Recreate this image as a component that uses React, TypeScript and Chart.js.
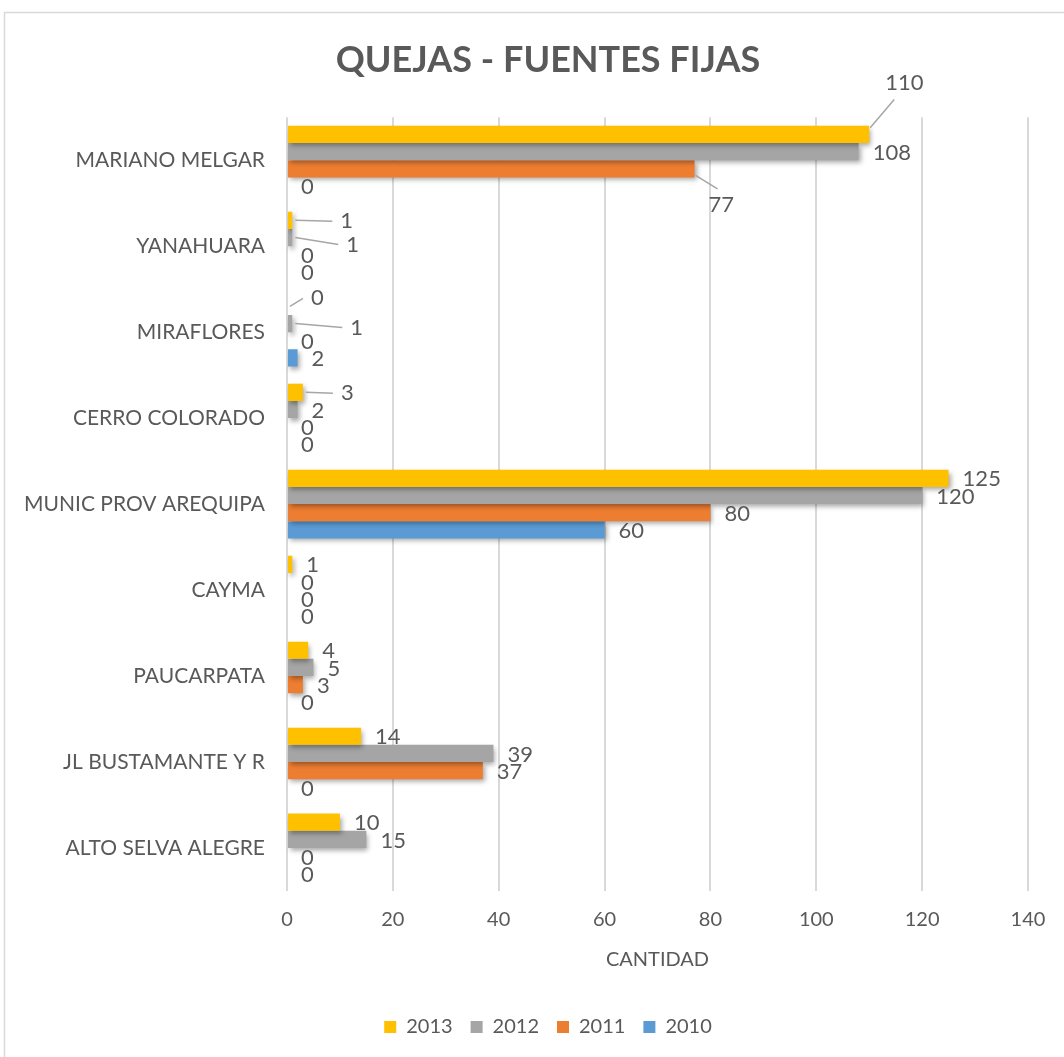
import React, { useEffect, useRef } from "react";
import { Chart, registerables } from "chart.js";

Chart.register(...registerables);

const chartTitle = "QUEJAS - FUENTES FIJAS";
const axisTitle = "CANTIDAD";
const categories = [
  "MARIANO MELGAR",
  "YANAHUARA",
  "MIRAFLORES",
  "CERRO COLORADO",
  "MUNIC PROV AREQUIPA",
  "CAYMA",
  "PAUCARPATA",
  "JL BUSTAMANTE Y R",
  "ALTO SELVA ALEGRE",
];
const years = ["2013", "2012", "2011", "2010"];
const values2013 = [110, 1, 0, 3, 125, 1, 4, 14, 10];
const values2012 = [108, 1, 1, 2, 120, 0, 5, 39, 15];
const values2011 = [77, 0, 0, 0, 80, 0, 3, 37, 0];
const values2010 = [0, 0, 2, 0, 60, 0, 0, 0, 0];
const xMin = 0;
const xMax = 140;
const xStep = 20;
const colors = ["#FFC000", "#A5A5A5", "#ED7D31", "#5B9BD5"];

// data-label displacements used with leader lines: [category, series, dx, dy]
const labelShifts: number[][] = [
  [0, 0, 2, -52],
  [0, 2, 0, 35],
  [1, 0, 34, 0],
  [1, 1, 40, 6],
  [2, 0, 10, -9],
  [2, 1, 44, 3],
  [3, 0, 24, 0],
];

const FONT = "Lato, 'Open Sans', 'DejaVu Sans', sans-serif";
const TEXT = "#595959";

const framePlugin = {
  id: "frame",
  beforeDraw(chart: any) {
    const ctx = chart.ctx;
    ctx.save();
    ctx.fillStyle = "#ffffff";
    ctx.fillRect(0, 0, chart.width, chart.height);
    ctx.strokeStyle = "#d9d9d9";
    ctx.lineWidth = 1.5;
    ctx.strokeRect(4.5, 12.5, chart.width + 20, chart.height + 20);
    ctx.restore();
  },
};

const barLabelPlugin = {
  id: "barLabels",
  beforeDatasetsDraw(chart: any) {
    const ctx = chart.ctx;
    ctx.save();
    ctx.shadowColor = "rgba(0,0,0,0.35)";
    ctx.shadowBlur = 5;
    ctx.shadowOffsetX = 2;
    ctx.shadowOffsetY = 3;
  },
  afterDatasetsDraw(chart: any) {
    const ctx = chart.ctx;
    ctx.restore();
    ctx.save();
    ctx.font = `22px ${FONT}`;
    ctx.fillStyle = TEXT;
    ctx.textAlign = "left";
    ctx.textBaseline = "middle";
    chart.data.datasets.forEach((ds: any, di: number) => {
      const meta = chart.getDatasetMeta(di);
      meta.data.forEach((bar: any, ci: number) => {
        const v = ds.data[ci];
        const endX = bar.x;
        const cy = bar.y;
        let lx = endX + 14;
        let ly = cy + 1;
        const shift = labelShifts.find((s) => s[0] === ci && s[1] === di);
        if (shift) {
          lx += shift[2];
          ly += shift[3];
          ctx.strokeStyle = "#a6a6a6";
          ctx.lineWidth = 1.5;
          ctx.beginPath();
          if (Math.abs(shift[3]) > 20) {
            const sgn = Math.sign(shift[3]);
            ctx.moveTo(endX + 1, cy + sgn * (bar.height / 2 - 2));
            ctx.lineTo(lx + 9, ly - sgn * 16);
          } else {
            ctx.moveTo(endX + 3, cy);
            ctx.lineTo(lx - 8, ly);
          }
          ctx.stroke();
        }
        ctx.fillText(String(v), lx, ly);
      });
    });
    ctx.restore();
  },
};

export default function App() {
  const ref = useRef<HTMLCanvasElement | null>(null);
  useEffect(() => {
    if (!ref.current) return;
    const seriesValues = [values2013, values2012, values2011, values2010];
    const chart = new Chart(ref.current, {
      type: "bar",
      data: {
        labels: categories,
        datasets: years.map((y, i) => ({
          label: y,
          data: seriesValues[i],
          backgroundColor: colors[i],
          borderWidth: 0,
          categoryPercentage: 0.8,
          barPercentage: 1,
        })),
      },
      options: {
        indexAxis: "y",
        responsive: false,
        animation: false,
        devicePixelRatio: 1,
        layout: { padding: { left: 68, right: 36, top: 0, bottom: 10 } },
        scales: {
          x: {
            min: xMin,
            max: xMax,
            ticks: {
              stepSize: xStep,
              color: TEXT,
              font: { family: FONT, size: 20 },
              padding: 17,
            },
            grid: { color: "#d9d9d9", lineWidth: 2, drawTicks: false },
            border: { display: false },
            title: {
              display: true,
              text: axisTitle,
              color: TEXT,
              font: { family: FONT, size: 20 },
              padding: { top: 4, bottom: 27 },
            },
            afterFit: (s: any) => {
              s.height = 108;
            },
          },
          y: {
            grid: { display: false, drawTicks: false },
            border: { display: false },
            ticks: {
              color: TEXT,
              font: { family: FONT, size: 21 },
              padding: 22,
            },
            afterFit: (s: any) => {
              s.width = 219;
              s._computeLabelArea = () => undefined;
            },
          },
        },
        plugins: {
          title: {
            display: true,
            text: chartTitle,
            color: TEXT,
            font: { family: FONT, size: 36, weight: "bold" },
            padding: { top: 39, bottom: 35 },
          },
          legend: {
            position: "bottom",
            labels: {
              color: TEXT,
              font: { family: FONT, size: 20 },
              boxWidth: 12,
              boxHeight: 12,
              padding: 18,
            },
          },
          tooltip: { enabled: false },
        },
      },
      plugins: [framePlugin, barLabelPlugin],
    } as any);
    return () => chart.destroy();
  }, []);
  return (
    <div style={{ position: "absolute", left: 0, top: 0, width: 1064, height: 1057 }}>
      <canvas ref={ref} width={1064} height={1057} />
    </div>
  );
}
